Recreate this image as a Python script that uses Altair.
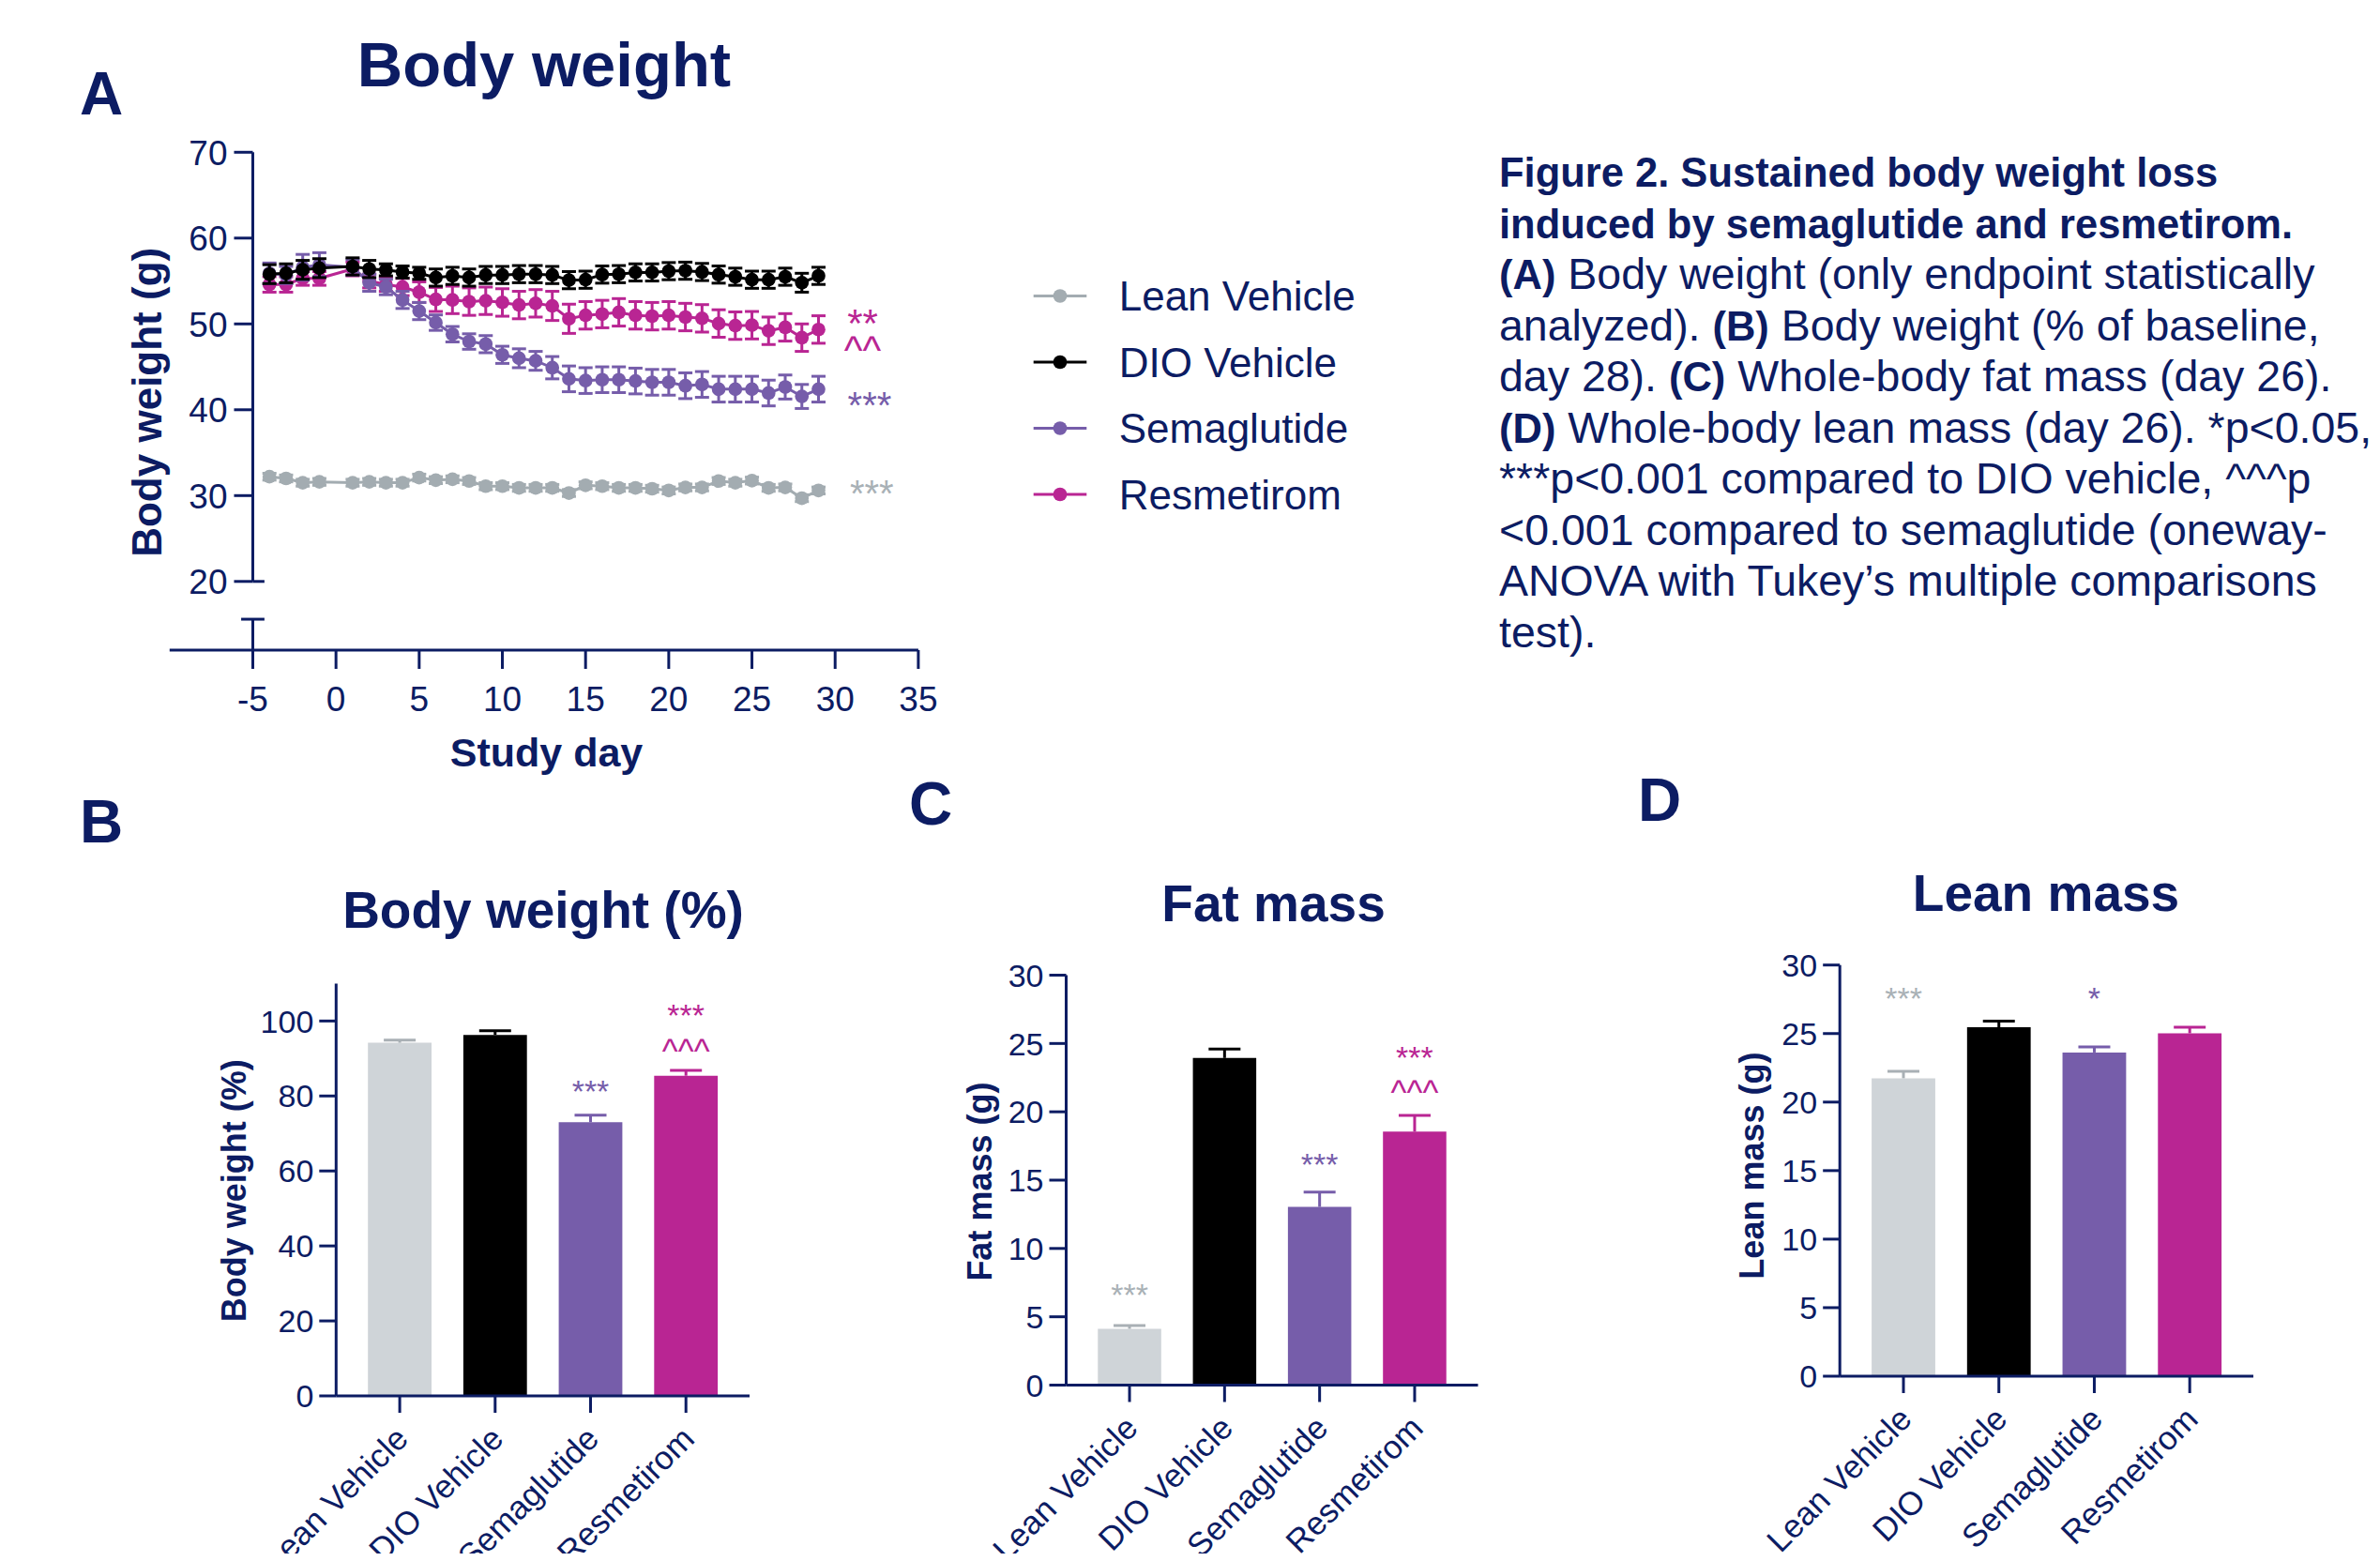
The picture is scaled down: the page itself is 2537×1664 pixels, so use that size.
import altair as alt
import pandas as pd

W, H = 2521, 1648
NAVY = "#0c1c63"
FONT = "Liberation Sans"

GROUPS = ["Lean Vehicle", "DIO Vehicle", "Semaglutide", "Resmetirom"]
LINE_COLORS = ["#a3acb1", "#000000", "#765daa", "#b92593"]
BAR_COLORS = ["#cfd4d8", "#000000", "#765daa", "#b92593"]
CAP_COLORS = ["#a9b0b5", "#000000", "#765daa", "#b92593"]
STAR_GRAY = "#a9b1b6"
PURPLE = "#765daa"
MAGENTA = "#b92593"

# ---------------- Panel A data (body weight, g) ----------------
DAYS = [-4, -3, -2, -1, 1, 2, 3, 4, 5, 6, 7, 8, 9, 10, 11, 12, 13, 14, 15,
        16, 17, 18, 19, 20, 21, 22, 23, 24, 25, 26, 27, 28, 29]
LEAN_BW = [32.2, 32.0, 31.5, 31.6, 31.5, 31.6, 31.5, 31.5, 32.1, 31.8, 31.9, 31.7,
           31.1, 31.1, 30.9, 30.9, 30.9, 30.3, 31.2, 31.1, 30.9, 30.9, 30.8, 30.6,
           30.95, 30.95, 31.7, 31.5, 31.75, 30.9, 30.95, 29.7, 30.6]
LEAN_SEM = [0.4, 0.4, 0.4, 0.4, 0.4, 0.4, 0.4, 0.4, 0.4, 0.4, 0.4, 0.4, 0.4, 0.4,
            0.4, 0.4, 0.4, 0.4, 0.4, 0.4, 0.4, 0.4, 0.4, 0.4, 0.4, 0.4, 0.4, 0.4,
            0.4, 0.4, 0.4, 0.4, 0.4]
DIO_BW = [55.8, 55.9, 56.3, 56.5, 56.7, 56.4, 56.3, 56.05, 55.9, 55.4, 55.6, 55.4,
          55.7, 55.7, 55.8, 55.8, 55.7, 55.1, 55.15, 55.75, 55.8, 56.0, 56.0, 56.15,
          56.2, 56.05, 55.75, 55.5, 55.15, 55.15, 55.5, 54.8, 55.6]
DIO_SEM = [1.1, 1.1, 1.1, 1.1, 1.0, 1.0, 0.7, 0.7, 0.7, 1.0, 1.0, 1.0, 1.0, 1.0,
           1.0, 1.0, 1.0, 1.0, 1.0, 1.0, 1.0, 1.0, 1.0, 1.0, 1.0, 1.0, 1.0, 1.0,
           1.0, 1.0, 1.0, 1.1, 1.0]
SEMA_BW = [55.9, 55.7, 56.6, 56.9, 56.6, 54.8, 54.3, 52.8, 51.5, 50.15, 48.8, 47.95,
           47.65, 46.4, 46.0, 45.7, 44.9, 43.6, 43.4, 43.5, 43.5, 43.35, 43.2, 43.2,
           42.8, 42.95, 42.4, 42.4, 42.4, 41.95, 42.65, 41.55, 42.4]
SEMA_SEM = [1.2, 1.0, 1.5, 1.4, 0.9, 1.0, 0.9, 1.0, 1.0, 0.9, 0.9, 0.9, 1.0, 1.0,
            1.1, 1.1, 1.3, 1.5, 1.5, 1.5, 1.5, 1.5, 1.5, 1.5, 1.5, 1.5, 1.5, 1.5,
            1.5, 1.5, 1.4, 1.4, 1.5]
RESM_BW = [54.6, 54.6, 55.3, 55.3, 56.4, 55.0, 54.6, 54.3, 53.7, 52.85, 52.8, 52.6,
           52.7, 52.5, 52.2, 52.4, 52.1, 50.6, 51.0, 51.15, 51.35, 51.0, 50.9, 51.0,
           50.8, 50.65, 50.05, 49.8, 49.85, 49.2, 49.6, 48.4, 49.35]
RESM_SEM = [0.9, 0.9, 0.8, 0.8, 0.8, 0.8, 0.8, 1.0, 1.2, 1.4, 1.6, 1.6, 1.6, 1.6,
            1.6, 1.6, 1.7, 1.7, 1.6, 1.6, 1.6, 1.6, 1.6, 1.6, 1.6, 1.6, 1.6, 1.6,
            1.6, 1.6, 1.6, 1.6, 1.6]

X_TICKS_A = [-5, 0, 5, 10, 15, 20, 25, 30, 35]
Y_TICKS_A = [20, 30, 40, 50, 60, 70]

# ---------------- Bar panels ----------------
BW_PCT = [94.2, 96.3, 73.0, 85.4]
BW_PCT_SEM = [0.7, 1.1, 1.9, 1.4]
FAT = [4.12, 23.94, 13.04, 18.55]
FAT_SEM = [0.24, 0.66, 1.09, 1.18]
LEANM = [21.74, 25.46, 23.62, 25.02]
LEANM_SEM = [0.5, 0.44, 0.41, 0.44]
Y_TICKS_B = [0, 20, 40, 60, 80, 100]
Y_TICKS_CD = [0, 5, 10, 15, 20, 25, 30]

CAPTION_LINES = [
    "Figure 2. Sustained body weight loss",
    "induced by semaglutide and resmetirom.",
    "Body weight (only endpoint statistically",
    "Body weight (% of baseline,",
    "Whole-body fat mass (day 26).",
    "Whole-body lean mass (day 26). *p<0.05,",
    "***p<0.001 compared to DIO vehicle, ^^^p",
    "<0.001 compared to semaglutide (oneway-",
    "ANOVA with Tukey\u2019s multiple comparisons",
    "test).",
]

ONE = alt.Data(values=[{"k": 1}])

# ================= Panel A =================
xA = alt.Scale(domain=[-10, 35], range=[172.8, 970.9], nice=False, zero=False)
yA = alt.Scale(domain=[12, 70], range=[685.0, 154.3], nice=False, zero=False)


def XA(field=None, datum=None):
    if field is not None:
        return alt.X(field, type="quantitative", scale=xA, axis=None)
    return alt.X(datum=datum, type="quantitative", scale=xA, axis=None)


def YA(field=None, datum=None):
    if field is not None:
        return alt.Y(field, type="quantitative", scale=yA, axis=None)
    return alt.Y(datum=datum, type="quantitative", scale=yA, axis=None)


def series(days, means, sems, color):
    df = pd.DataFrame({"day": days, "mean": means, "sem": sems})
    df["lo"] = df["mean"] - df["sem"]
    df["hi"] = df["mean"] + df["sem"]
    base = alt.Chart(df)
    err = base.mark_rule(color=color, strokeWidth=3).encode(
        x=XA("day"), y=YA("lo"), y2="hi:Q")
    cap_lo = base.mark_tick(color=color, orient="horizontal", size=15, thickness=3,
                            opacity=1).encode(x=XA("day"), y=YA("lo"))
    cap_hi = base.mark_tick(color=color, orient="horizontal", size=15, thickness=3,
                            opacity=1).encode(x=XA("day"), y=YA("hi"))
    line = base.mark_line(color=color, strokeWidth=3).encode(x=XA("day"), y=YA("mean"))
    pts = base.mark_circle(color=color, size=216, opacity=1).encode(
        x=XA("day"), y=YA("mean"))
    return [err, cap_lo, cap_hi, line, pts]


def a_rule(x, x2, y, y2=None):
    enc = dict(x=XA(datum=x), y=YA(datum=y))
    if x2 is not None:
        enc["x2"] = alt.X2(datum=x2)
    if y2 is not None:
        enc["y2"] = alt.Y2(datum=y2)
    return alt.Chart(ONE).mark_rule(color=NAVY, strokeWidth=3).encode(**enc)


def a_text(x, y, txt, color, size, line_height=None):
    kw = dict(text=txt, color=color, fontSize=size, font=FONT, align="center",
              baseline="alphabetic")
    if line_height is not None:
        kw["lineHeight"] = line_height
    return alt.Chart(ONE).mark_text(**kw).encode(x=XA(datum=x), y=YA(datum=y))


xt_A = pd.DataFrame({"v": X_TICKS_A, "lab": [str(v) for v in X_TICKS_A]})
yt_A = pd.DataFrame({"v": Y_TICKS_A, "lab": [str(v) for v in Y_TICKS_A]})

A_layers = []
# axes (drawn through the panel's scales)
A_layers += [
    a_rule(-10, 35, 12),
    alt.Chart(xt_A).mark_rule(color=NAVY, strokeWidth=3, y2Offset=20).encode(
        x=XA("v"), y=YA(datum=12), y2=alt.Y2(datum=12)),
    alt.Chart(xt_A).mark_text(color=NAVY, fontSize=37, font=FONT, align="center",
                              baseline="alphabetic", dy=65).encode(
        x=XA("v"), y=YA(datum=12), text="lab:N"),
    alt.Chart(yt_A).mark_rule(color=NAVY, strokeWidth=3, x2Offset=-20).encode(
        x=XA(datum=-5), x2=alt.X2(datum=-5), y=YA("v")),
    alt.Chart(yt_A).mark_text(color=NAVY, fontSize=37, font=FONT, align="right",
                              baseline="alphabetic", dx=-27, dy=13.2).encode(
        x=XA(datum=-5), y=YA("v"), text="lab:N"),
    a_rule(-5, None, 20, 70),
    a_rule(-5, None, 12, 15.6),
    a_rule(-5, -4.3, 20),
    a_rule(-5.7, -4.3, 15.6),
]
A_layers += series(DAYS, LEAN_BW, LEAN_SEM, LINE_COLORS[0])
A_layers += series(DAYS, RESM_BW, RESM_SEM, LINE_COLORS[3])
A_layers += series(DAYS, SEMA_BW, SEMA_SEM, LINE_COLORS[2])
A_layers += series(DAYS, DIO_BW, DIO_SEM, LINE_COLORS[1])
A_layers += [
    a_text(31.65, 48.5, ["**", "^^"], MAGENTA, 42, line_height=28.5),
    a_text(32.07, 38.98, "***", PURPLE, 40),
    a_text(32.2, 28.67, "***", STAR_GRAY, 40),
]
panelA = alt.layer(*A_layers)

# ================= Legend =================
leg_df = pd.DataFrame({"group": GROUPS})
leg_y = alt.Scale(type="point", domain=GROUPS, range=[307.5, 519.0], padding=0)
leg_c = alt.Scale(domain=GROUPS, range=LINE_COLORS)
lb = alt.Chart(leg_df)
legend = alt.layer(
    lb.mark_rule(strokeWidth=3).encode(
        x=alt.value(1093.7), x2=alt.value(1150.3),
        y=alt.Y("group:N", scale=leg_y, axis=None),
        color=alt.Color("group:N", scale=leg_c, legend=None)),
    lb.mark_circle(size=216, opacity=1).encode(
        x=alt.value(1122.0), y=alt.Y("group:N", scale=leg_y, axis=None),
        color=alt.Color("group:N", scale=leg_c, legend=None)),
    lb.mark_text(align="left", baseline="alphabetic", dy=15.8, fontSize=44,
                 font=FONT, color=NAVY).encode(
        x=alt.value(1184.7), y=alt.Y("group:N", scale=leg_y, axis=None),
        text="group:N"),
)


# ================= Bar panels =================
def bar_panel(means, sems, xr, yr, ydom, yticks, anns):
    df = pd.DataFrame({"group": GROUPS, "mean": means, "sem": sems})
    df["top"] = df["mean"] + df["sem"]
    xs = alt.Scale(type="band", domain=GROUPS, range=xr, paddingInner=1 / 3,
                   paddingOuter=1 / 3)
    ys = alt.Scale(domain=ydom, range=yr, nice=False, zero=True)

    def BX(field=None, datum=None):
        if field is not None:
            return alt.X(field, type="nominal", scale=xs, axis=None, bandPosition=0.5)
        return alt.X(datum=datum, type="nominal", scale=xs, axis=None, bandPosition=0.5)

    def BY(field=None, datum=None):
        if field is not None:
            return alt.Y(field, type="quantitative", scale=ys, axis=None)
        return alt.Y(datum=datum, type="quantitative", scale=ys, axis=None)

    base = alt.Chart(df)
    yt = pd.DataFrame({"v": yticks, "lab": [str(v) for v in yticks]})
    gx = pd.DataFrame({"group": GROUPS})
    layers = [
        base.mark_bar(opacity=1).encode(
            x=alt.X("group:N", scale=xs, axis=None),
            y=BY("mean"),
            color=alt.Color("group:N", scale=alt.Scale(domain=GROUPS, range=BAR_COLORS),
                            legend=None)),
        base.mark_rule(strokeWidth=3).encode(
            x=BX("group"), y=BY("mean"), y2="top:Q",
            stroke=alt.Stroke("group:N", scale=alt.Scale(domain=GROUPS, range=CAP_COLORS),
                              legend=None)),
        base.mark_tick(orient="horizontal", size=34, thickness=3, opacity=1).encode(
            x=BX("group"), y=BY("top"),
            fill=alt.Fill("group:N", scale=alt.Scale(domain=GROUPS, range=CAP_COLORS),
                          legend=None)),
        # y axis
        alt.Chart(ONE).mark_rule(color=NAVY, strokeWidth=3).encode(
            x=alt.value(xr[0]), y=BY(datum=ydom[0]), y2=alt.Y2(datum=ydom[1])),
        alt.Chart(yt).mark_rule(color=NAVY, strokeWidth=3).encode(
            x=alt.value(xr[0] - 18), x2=alt.value(xr[0]), y=BY("v")),
        alt.Chart(yt).mark_text(color=NAVY, fontSize=34, font=FONT, align="right",
                                baseline="alphabetic", dy=12.2).encode(
            x=alt.value(xr[0] - 24), y=BY("v"), text="lab:N"),
        # x axis
        alt.Chart(ONE).mark_rule(color=NAVY, strokeWidth=3).encode(
            x=alt.value(xr[0]), x2=alt.value(xr[1]), y=BY(datum=0)),
        alt.Chart(gx).mark_rule(color=NAVY, strokeWidth=3, y2Offset=18).encode(
            x=BX("group"), y=BY(datum=0), y2=alt.Y2(datum=0)),
        alt.Chart(gx).mark_text(color=NAVY, fontSize=35, font=FONT, angle=315,
                                align="right", baseline="top", xOffset=-9,
                                yOffset=28).encode(
            x=BX("group"), y=BY(datum=0), text="group:N"),
    ]
    for grp, val, txt, col, size in anns:
        layers.append(
            alt.Chart(ONE).mark_text(text=txt, color=col, fontSize=size, font=FONT,
                                     align="center", baseline="alphabetic").encode(
                x=BX(datum=grp), y=BY(datum=val)))
    return alt.layer(*layers)


panelB = bar_panel(BW_PCT, BW_PCT_SEM, [350.3, 791.0], [1480.0, 1040.4], [0, 110],
                   Y_TICKS_B,
                   [("Semaglutide", 78.2, "***", PURPLE, 34),
                    ("Resmetirom", 98.7, "***", MAGENTA, 34),
                    ("Resmetirom", 88.8, "^^^", MAGENTA, 36)])
panelC = bar_panel(FAT, FAT_SEM, [1128.5, 1567.5], [1468.5, 1031.5], [0, 30],
                   Y_TICKS_CD,
                   [("Lean Vehicle", 5.77, "***", STAR_GRAY, 34),
                    ("Semaglutide", 15.31, "***", PURPLE, 34),
                    ("Resmetirom", 23.16, "***", MAGENTA, 34),
                    ("Resmetirom", 20.54, "^^^", MAGENTA, 36)])
panelD = bar_panel(LEANM, LEANM_SEM, [1953.2, 2394.0], [1459.0, 1020.7], [0, 30],
                   Y_TICKS_CD,
                   [("Lean Vehicle", 26.73, "***", STAR_GRAY, 34),
                    ("Semaglutide", 26.73, "*", PURPLE, 34)])


# ================= Free text (letters, titles) =================
def label(text, x, y, size, bold=True, angle=0, align="left"):
    return alt.Chart(ONE).mark_text(
        text=text, align=align, baseline="alphabetic", fontSize=size, font=FONT,
        fontWeight="bold" if bold else "normal", angle=angle, color=NAVY).encode(
        x=alt.value(x), y=alt.value(y))


labels = [
    label("A", 77, 114.3, 64),
    label("B", 77, 890, 64),
    label("C", 961, 870.6, 64),
    label("D", 1738, 867.3, 64),
    label("Body weight", 572, 83.7, 67, align="center"),
    label("Body weight (%)", 571, 981, 55, align="center"),
    label("Fat mass", 1349.5, 974, 55, align="center"),
    label("Lean mass", 2173, 962.8, 55, align="center"),
    label("Body weight (g)", 164, 420.8, 44, angle=270, align="center"),
    label("Study day", 574.5, 809, 43, align="center"),
    label("Body weight (%)", 254, 1261.3, 36, angle=270, align="center"),
    label("Fat mass (g)", 1048.5, 1251.6, 36, angle=270, align="center"),
    label("Lean mass (g)", 1872, 1234.6, 36, angle=270, align="center"),
]

# ================= Caption =================
REG_W = {" ": 278, "(": 333, ")": 333, ".": 278, "a": 556, "n": 556, "l": 222,
         "y": 500, "z": 500, "e": 556, "d": 556, "2": 556, "8": 556}
BOLD_W = {"(": 333, ")": 333, "A": 722, "B": 722, "C": 722, "D": 722}
CB, CR = 43.5, 46.5
CX0 = 1590.0


def tw(s, table, size):
    return sum(table[c] for c in s) / 1000.0 * size


cap_y = alt.Scale(type="point", domain=list(range(10)), range=[191.0, 681.5], padding=0)


def cap_layer(rows, x, bold):
    df = pd.DataFrame(rows, columns=["line", "t"])
    return alt.Chart(df).mark_text(
        align="left", baseline="alphabetic", font=FONT, fontSize=CB if bold else CR,
        fontWeight="bold" if bold else "normal", color=NAVY).encode(
        x=alt.value(x), y=alt.Y("line:O", scale=cap_y, axis=None), text="t:N")


sp = tw(" ", REG_W, CR)
x_after_A = CX0 + tw("(A)", BOLD_W, CB) + sp
x_B = CX0 + tw("analyzed). ", REG_W, CR)
x_after_B = x_B + tw("(B)", BOLD_W, CB) + sp
x_C = CX0 + tw("day 28). ", REG_W, CR)
x_after_C = x_C + tw("(C)", BOLD_W, CB) + sp

caption = alt.layer(
    cap_layer([(0, CAPTION_LINES[0]), (1, CAPTION_LINES[1]), (2, "(A)"), (5, "(D)")],
              CX0, True),
    cap_layer([(3, "analyzed)."), (4, "day 28)."), (6, CAPTION_LINES[6]),
               (7, CAPTION_LINES[7]), (8, CAPTION_LINES[8]), (9, CAPTION_LINES[9])],
              CX0, False),
    cap_layer([(2, CAPTION_LINES[2]), (5, CAPTION_LINES[5])], x_after_A, False),
    cap_layer([(3, "(B)")], x_B, True),
    cap_layer([(3, CAPTION_LINES[3])], x_after_B, False),
    cap_layer([(4, "(C)")], x_C, True),
    cap_layer([(4, CAPTION_LINES[4])], x_after_C, False),
)

chart = alt.layer(panelA, legend, panelB, panelC, panelD, caption, *labels).resolve_scale(
    x="independent", y="independent", color="independent", stroke="independent",
    fill="independent"
).properties(
    width=W, height=H, padding=0, autosize=alt.AutoSizeParams(type="none")
).configure(font=FONT).configure_view(stroke=None)

chart.save("out.html", embed_options={"renderer": "svg", "actions": False})
